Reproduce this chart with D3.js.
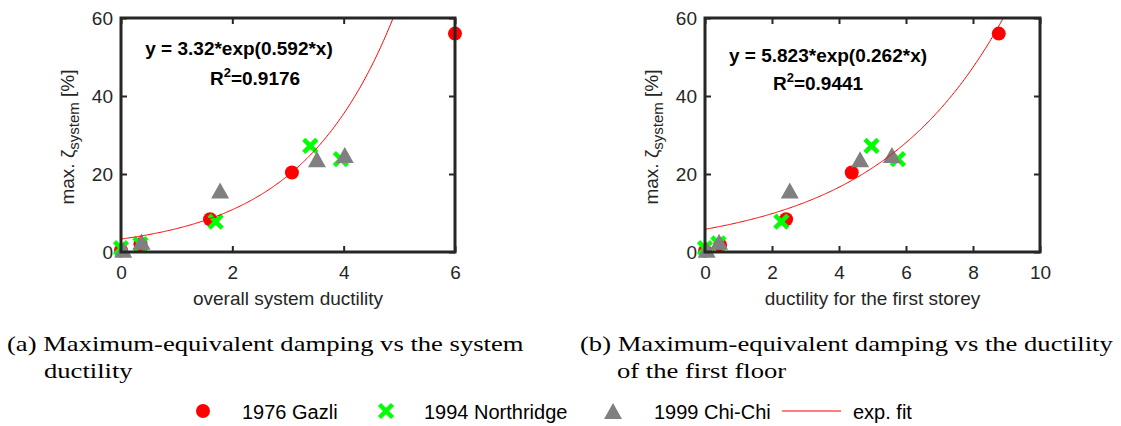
<!DOCTYPE html>
<html>
<head>
<meta charset="utf-8">
<script src="https://cdn.jsdelivr.net/npm/d3@7"></script>
<style>
  body { margin: 0; background: #fff; }
  svg { display: block; font-family: "Liberation Sans", Arial, sans-serif; }
</style>
</head>
<body>
<div id="chart-area"></div>
<script>
// data: [ductility, max damping %]
const gazliA = [[0, 0.4], [0.35, 2], [1.6, 8.4], [3.07, 20.4], [6, 56]]
const northridgeA = [[0, 1], [0.35, 2], [1.7, 7.8], [3.4, 27.2], [3.95, 23.8]]
const chichiA = [[0.04, 0.6], [0.37, 2.6], [1.78, 15.8], [3.52, 23.8], [4.02, 24.9]]

const gazliB = [[0, 0.3], [0.45, 1.8], [2.42, 8.4], [4.38, 20.4], [8.77, 56]]
const northridgeB = [[0, 1], [0.4, 2.2], [2.28, 7.8], [4.97, 27.2], [5.76, 23.8]]
const chichiB = [[0.05, 0.6], [0.42, 2.6], [2.53, 15.8], [4.63, 23.8], [5.58, 24.9]]

// exp fit coefficients y = a*exp(b*x)
const fitA = [3.32, 0.592]
const fitB = [5.823, 0.262]

const xTicksA = [0, 2, 4, 6]
const xTicksB = [0, 2, 4, 6, 8, 10]
const yTicks = [0, 20, 40, 60]

const legendNames = ["1976 Gazli", "1994 Northridge", "1999 Chi-Chi", "exp. fit"]

const W = 1121, H = 426
const svg = d3.select("#chart-area").append("svg")
  .attr("width", W)
  .attr("height", H)

const DARK = "#262626"
const RED = "#ff0000", GREEN = "#00ff00", GREY = "#808080"

const panels = [
  { left: 121, right: 455, xmax: 6, ticks: xTicksA, data: [gazliA, northridgeA, chichiA], fit: fitA,
    xlabel: "overall system ductility", eq: "y = 3.32*exp(0.592*x)", r2: "0.9176",
    eqX: 239, eqY: 55, r2X: 255, r2Y: 85 },
  { left: 705, right: 1040, xmax: 10, ticks: xTicksB, data: [gazliB, northridgeB, chichiB], fit: fitB,
    xlabel: "ductility for the first storey", eq: "y = 5.823*exp(0.262*x)", r2: "0.9441",
    eqX: 828, eqY: 62, r2X: 818, r2Y: 90 }
]
const TOP = 18, BOTTOM = 252

// marker shapes
const xMark = (cx, cy, s) => `M${cx - s},${cy - s}L${cx + s},${cy + s}M${cx - s},${cy + s}L${cx + s},${cy - s}`
const triMark = (cx, cy) => `M${cx},${cy - 8}L${cx + 9},${cy + 8}L${cx - 9},${cy + 8}Z`

const styleTicks = a => a.selectAll("line").attr("stroke", DARK).attr("stroke-width", 2)
const tickFont = a => a.selectAll("text")
  .attr("font-size", "19px").attr("fill", DARK)
  .attr("font-family", "'Liberation Sans', Arial, sans-serif")

panels.forEach((p, i) => {
  const x = d3.scaleLinear().domain([0, p.xmax]).range([p.left, p.right])
  const y = d3.scaleLinear().domain([0, 60]).range([BOTTOM, TOP])
  const g = svg.append("g")

  const clipId = "clip" + i
  svg.append("clipPath").attr("id", clipId)
    .append("rect")
    .attr("x", p.left).attr("y", TOP)
    .attr("width", p.right - p.left).attr("height", BOTTOM - TOP)

  // axes: bottom/left with labels, top/right ticks only (ticks point inward)
  g.append("g")
    .attr("transform", `translate(0, ${BOTTOM})`)
    .call(d3.axisBottom(x).tickValues(p.ticks).tickFormat(d3.format("d"))
      .tickSizeInner(-6).tickSizeOuter(0).tickPadding(14))
    .call(tickFont)
    .call(a => a.select(".domain").remove())
    .call(styleTicks)

  g.append("g")
    .attr("transform", `translate(${p.left}, 0)`)
    .call(d3.axisLeft(y).tickValues(yTicks).tickSizeInner(-6).tickSizeOuter(0).tickPadding(8))
    .call(tickFont)
    .call(a => a.select(".domain").remove())
    .call(styleTicks)

  g.append("g")
    .attr("transform", `translate(0, ${TOP})`)
    .call(d3.axisTop(x).tickValues(p.ticks).tickSizeInner(-6).tickSizeOuter(0).tickFormat(""))
    .call(a => a.select(".domain").remove())
    .call(styleTicks)

  g.append("g")
    .attr("transform", `translate(${p.right}, 0)`)
    .call(d3.axisRight(y).tickValues(yTicks).tickSizeInner(-6).tickSizeOuter(0).tickFormat(""))
    .call(a => a.select(".domain").remove())
    .call(styleTicks)

  // markers
  g.append("g").selectAll("circle")
    .data(p.data[0])
    .enter().append("circle")
      .attr("cx", d => x(d[0]))
      .attr("cy", d => y(d[1]))
      .attr("r", 7)
      .attr("fill", RED)

  g.append("g").selectAll("path")
    .data(p.data[1])
    .enter().append("path")
      .attr("d", d => xMark(x(d[0]), y(d[1]), 6.5))
      .attr("stroke", GREEN)
      .attr("stroke-width", 4.5)

  g.append("g").selectAll("path")
    .data(p.data[2])
    .enter().append("path")
      .attr("d", d => triMark(x(d[0]), y(d[1])))
      .attr("fill", GREY)

  // fit curve
  const a = p.fit[0], b = p.fit[1]
  const xs = d3.range(0, p.xmax + 0.001, p.xmax / 300)
  g.append("path")
    .datum(xs)
    .attr("clip-path", `url(#${clipId})`)
    .attr("fill", "none")
    .attr("stroke", RED)
    .attr("stroke-width", 1)
    .attr("d", d3.line().x(d => x(d)).y(d => y(a * Math.exp(b * d))))

  // frame
  g.append("rect")
    .attr("x", p.left).attr("y", TOP)
    .attr("width", p.right - p.left).attr("height", BOTTOM - TOP)
    .attr("fill", "none")
    .attr("stroke", DARK)
    .attr("stroke-width", 3)

  // equation text
  g.append("text")
    .attr("x", p.eqX).attr("y", p.eqY)
    .attr("text-anchor", "middle")
    .attr("font-size", "19px").attr("font-weight", "bold")
    .text(p.eq)

  const r2 = g.append("text")
    .attr("x", p.r2X).attr("y", p.r2Y)
    .attr("text-anchor", "middle")
    .attr("font-size", "19px").attr("font-weight", "bold")
  r2.append("tspan").text("R")
  r2.append("tspan").attr("dy", -8).attr("font-size", "13px").text("2")
  r2.append("tspan").attr("dy", 8).text("=" + p.r2)

  // x label
  g.append("text")
    .attr("x", (p.left + p.right) / 2)
    .attr("y", 305)
    .attr("text-anchor", "middle")
    .attr("font-size", "19px").attr("fill", DARK)
    .text(p.xlabel)

  // y label
  const yl = g.append("text")
    .attr("transform", `translate(${p.left - 47}, ${(TOP + BOTTOM) / 2 + 2}) rotate(-90)`)
    .attr("text-anchor", "middle")
    .attr("font-size", "19px").attr("fill", DARK)
  yl.append("tspan").text("max. ζ")
  yl.append("tspan").attr("dy", 5).attr("font-size", "15px").text("system")
  yl.append("tspan").attr("dy", -5).text(" [%]")
})

// captions (serif, slightly wide as in the source figure)
const captions = [
  { x: 7, lines: ["(a) Maximum-equivalent damping vs the system", "ductility"] },
  { x: 580, lines: ["(b) Maximum-equivalent damping vs the ductility", "of the first floor"] }
]
captions.forEach(c => {
  c.lines.forEach((t, k) => {
    svg.append("text")
      .attr("transform", `translate(${k === 0 ? c.x : c.x + 37}, ${351 + k * 27}) scale(1.21, 1)`)
      .attr("font-family", "'Liberation Serif', 'Times New Roman', serif")
      .attr("font-size", "22px")
      .attr("fill", "#000")
      .text(t)
  })
})

// legend
const markX = [203, 386, 613, 782]
const textX = [242, 424, 654, 853]
const LY = 411
const leg = svg.append("g").attr("font-size", "20px")
leg.append("circle").attr("cx", markX[0]).attr("cy", LY).attr("r", 7).attr("fill", RED)
leg.append("path").attr("d", xMark(markX[1], LY, 6.5)).attr("stroke", GREEN).attr("stroke-width", 4.5)
leg.append("path").attr("d", triMark(markX[2], LY)).attr("fill", GREY)
leg.append("line").attr("x1", markX[3]).attr("x2", markX[3] + 59).attr("y1", LY).attr("y2", LY)
  .attr("stroke", RED).attr("stroke-width", 1)
legendNames.forEach((n, k) => {
  leg.append("text").attr("x", textX[k]).attr("y", LY + 8).attr("fill", "#000").text(n)
})
</script>
</body>
</html>
